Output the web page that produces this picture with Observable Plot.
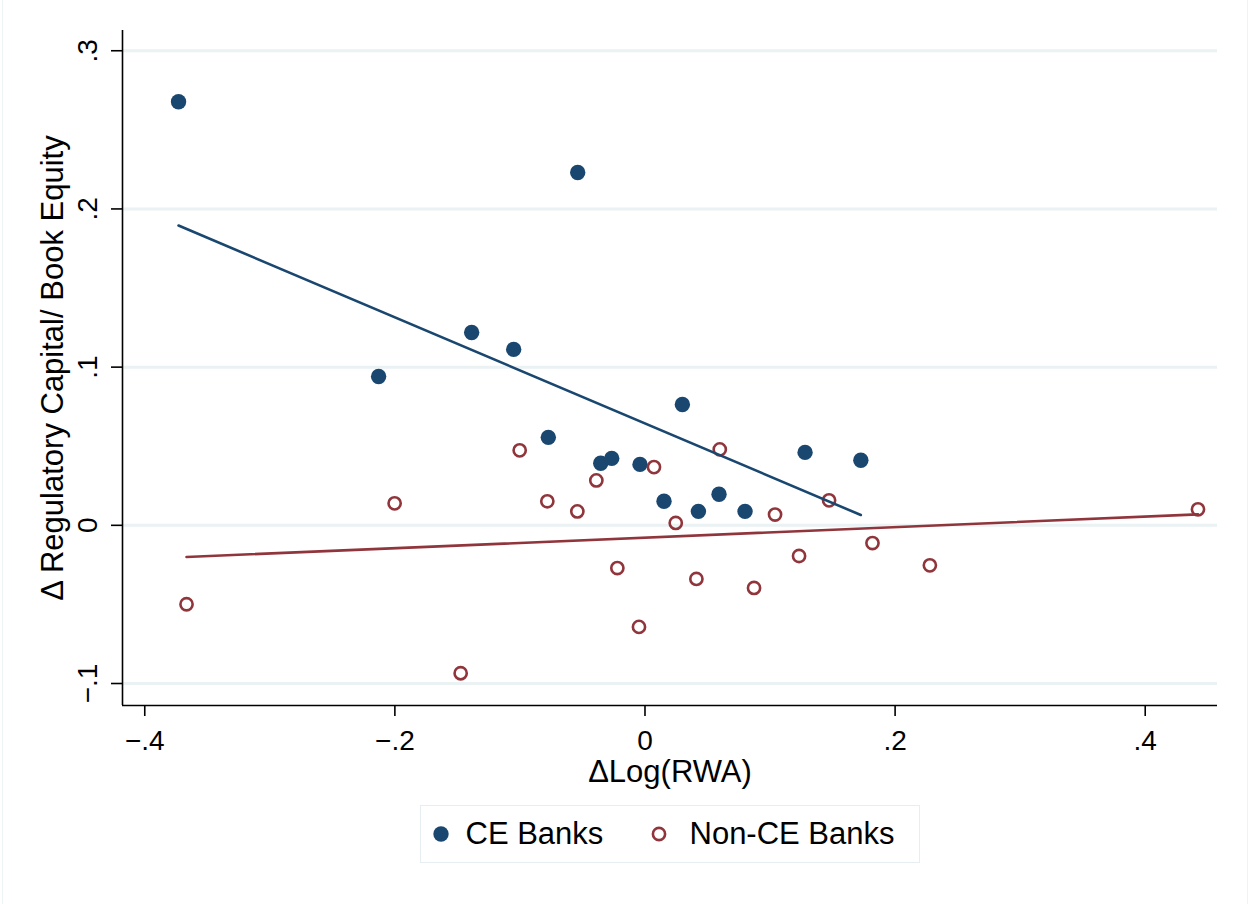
<!DOCTYPE html>
<html>
<head>
<meta charset="utf-8">
<script src="https://cdn.jsdelivr.net/npm/d3@7"></script>
<script src="https://cdn.jsdelivr.net/npm/@observablehq/plot@0.6"></script>
<style>
  body { margin: 0; background: #fff; font-family: "Liberation Sans", Arial, sans-serif; }
  #fig { position: relative; width: 1249px; height: 904px; overflow: hidden; }
  #fig .edge { position: absolute; top: 0; bottom: 0; width: 1px; background: #eef3f6; }
  #legend { position: absolute; left: 420px; top: 805px; width: 500px; height: 58px;
            box-sizing: border-box; border: 1.5px solid #e6eef1; background: #fff; }
  #legend .key { position: absolute; top: 0; height: 55px; display: flex; align-items: center;
                 font-size: 31px; color: #000; white-space: nowrap; }
</style>
</head>
<body>
<div id="fig"></div>
<script>
// CE banks: change in log risk-weighted assets vs change in regulatory capital / book equity
const ceX = [-0.3730, -0.0538, -0.1386, -0.1050, -0.2130, 0.0299, -0.0773, -0.0354,
             -0.0266, -0.0040, 0.1280, 0.1726, 0.0152, 0.0592, 0.0427, 0.0800];
const ceY = [0.2678, 0.2230, 0.1219, 0.1112, 0.0941, 0.0764, 0.0556, 0.0392,
             0.0423, 0.0385, 0.0461, 0.0411, 0.0152, 0.0196, 0.0088, 0.0088];

// Non-CE banks
const nonX = [-0.3666, -0.2002, -0.1474, -0.1002, -0.0781, -0.0541, -0.0389, -0.0221, -0.0048, 0.0072,
              0.0246, 0.0411, 0.0598, 0.0872, 0.1040, 0.1232, 0.1472, 0.1819, 0.2278, 0.4422];
const nonY = [-0.0499, 0.0139, -0.0935, 0.0474, 0.0152, 0.0088, 0.0284, -0.0270, -0.0642, 0.0368,
              0.0015, -0.0339, 0.0480, -0.0396, 0.0068, -0.0194, 0.0158, -0.0112, -0.0253, 0.0101];

// Linear fits per group (CE, Non-CE)
const groups = ["CE Banks", "Non-CE Banks"];
const fitSlope = [-0.3354, 0.0333];
const fitIntercept = [0.0644, -0.0078];

// Axis ticks and extents
const xTicks = [-0.4, -0.2, 0, 0.2, 0.4];
const yTicks = [-0.1, 0, 0.1, 0.2, 0.3];
const xDomain = [-0.4178, 0.4578];
const yDomain = [-0.1139, 0.3128];

const colors = ["#1a476f", "#90353b"];

// Stata-style tick labels: ".2", "-.1", "0"
const fmt = d => d === 0 ? "0" : d3.format(".1f")(d).replace("0.", ".");

const ce = ceX.map((x, i) => ({x, y: ceY[i]}));
const non = nonX.map((x, i) => ({x, y: nonY[i]}));
const fitLine = (xs, k) => d3.extent(xs).map(x => ({x, y: fitIntercept[k] + fitSlope[k] * x}));

const font = '"Liberation Sans", Arial, sans-serif';

const chart = Plot.plot({
  width: 1249,
  height: 790,
  marginLeft: 122,
  marginRight: 32,
  marginTop: 30,
  marginBottom: 85,
  style: {fontFamily: font, fontSize: "28px", color: "#000", background: "transparent"},
  x: {domain: xDomain},
  y: {domain: yDomain},
  marks: [
    Plot.gridY(yTicks, {stroke: "#eaf2f3", strokeOpacity: 1, strokeWidth: 3}),
    Plot.ruleX([xDomain[0]], {stroke: "#000", strokeWidth: 1.6}),
    Plot.ruleY([yDomain[0]], {stroke: "#000", strokeWidth: 1.6}),
    // tick marks and tick labels
    Plot.axisX(xTicks, {
      tickSize: 11, tickPadding: 14, tickFormat: fmt, fontSize: 28, strokeWidth: 1.6, label: null
    }),
    Plot.axisY(yTicks, {
      tickSize: 11, tickPadding: 15, tickRotate: -90, tickFormat: fmt, fontSize: 28, strokeWidth: 1.6, label: null
    }),
    // axis titles
    Plot.axisX(xTicks, {
      tickSize: 0, tickFormat: () => "", stroke: "none",
      label: "ΔLog(RWA)", labelAnchor: "center", labelArrow: "none", labelOffset: 76, fontSize: 31
    }),
    Plot.axisY(yTicks, {
      tickSize: 0, tickFormat: () => "", stroke: "none",
      label: "Δ Regulatory Capital/ Book Equity", labelAnchor: "center", labelArrow: "none", labelOffset: 82, fontSize: 31
    }),
    Plot.dot(ce, {x: "x", y: "y", r: 7.7, fill: colors[0], stroke: "none"}),
    Plot.dot(non, {x: "x", y: "y", r: 6.1, fill: "none", stroke: colors[1], strokeWidth: 2.6}),
    Plot.line(fitLine(ceX, 0), {x: "x", y: "y", stroke: colors[0], strokeWidth: 2.6}),
    Plot.line(fitLine(nonX, 1), {x: "x", y: "y", stroke: colors[1], strokeWidth: 2.6})
  ]
});

const fig = document.getElementById("fig");
fig.appendChild(chart);

// faint outline of the graph region
for (const left of [2, 1247]) {
  const e = document.createElement("div");
  e.className = "edge";
  e.style.left = left + "px";
  fig.appendChild(e);
}

// legend below the plot
const legend = document.createElement("div");
legend.id = "legend";
const keyLeft = [10.5, 228.5];
const keyGap = [16, 22];
groups.forEach((g, i) => {
  const key = document.createElement("div");
  key.className = "key";
  key.style.left = keyLeft[i] + "px";
  const marker = i === 0
    ? `<circle cx="9" cy="9" r="7.7" fill="${colors[0]}"/>`
    : `<circle cx="9" cy="9" r="6.1" fill="none" stroke="${colors[1]}" stroke-width="2.6"/>`;
  key.innerHTML = `<svg width="18" height="18" viewBox="0 0 18 18" style="margin-right:${keyGap[i]}px">${marker}</svg><span>${g}</span>`;
  legend.appendChild(key);
});
fig.appendChild(legend);
</script>
</body>
</html>
